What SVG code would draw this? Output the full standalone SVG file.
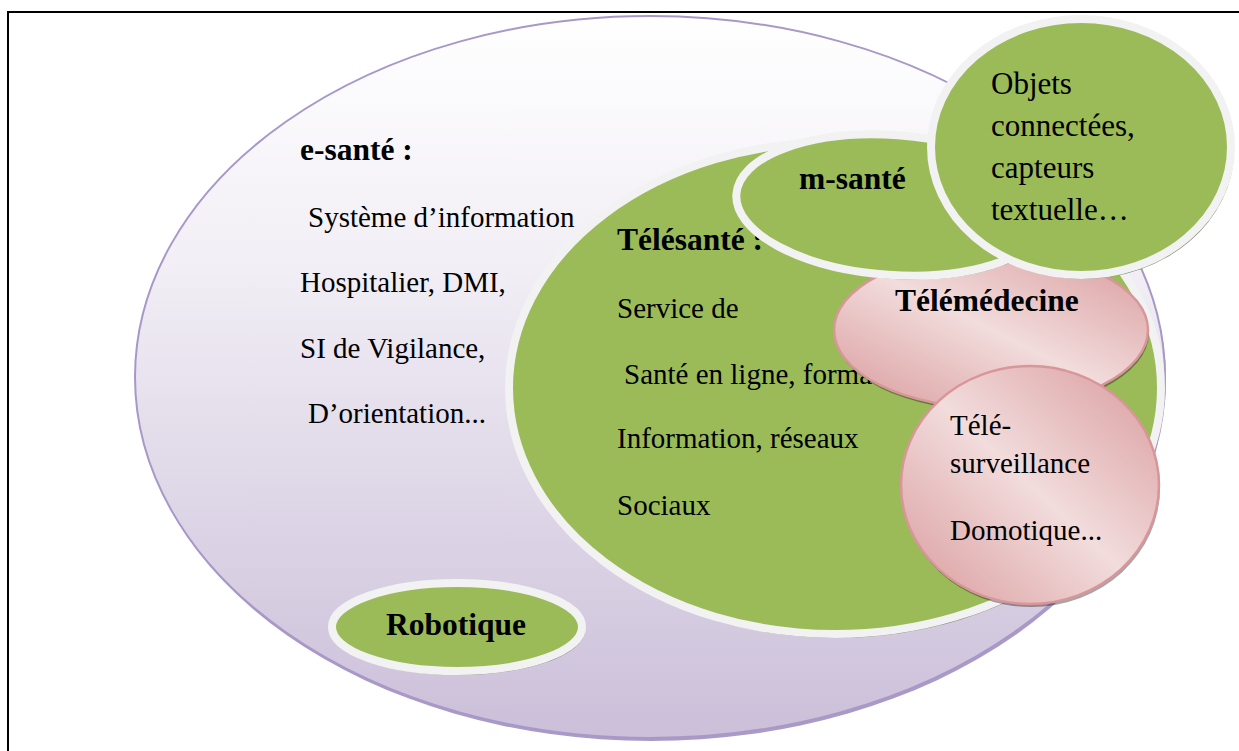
<svg xmlns="http://www.w3.org/2000/svg" width="1239" height="751" viewBox="0 0 1239 751">
  <style>
    .reg { font-family: "Liberation Serif", "Times New Roman", serif; font-size: 29px; fill: #000; }
    .big { font-family: "Liberation Serif", "Times New Roman", serif; font-size: 31px; fill: #000; }
    .bold { font-family: "Liberation Serif", "Times New Roman", serif; font-size: 31.5px; font-weight: bold; fill: #000; }
    .green { fill: #9bbb59; stroke: #f2f2f2; stroke-width: 8; }
    .gshadow { fill: #838c74; }
    .pink { fill: url(#pinkGrad); stroke: #d9969a; stroke-width: 2.5; }
    .pshadow { fill: #000; fill-opacity: 0.35; }
  </style>
  <defs>
    <linearGradient id="purpleGrad" x1="0" y1="0" x2="0" y2="1">
      <stop offset="0" stop-color="#ffffff"/>
      <stop offset="0.35" stop-color="#f1eef5"/>
      <stop offset="1" stop-color="#cbbfd9"/>
    </linearGradient>
    <linearGradient id="pinkGrad" x1="0" y1="1" x2="1" y2="0">
      <stop offset="0" stop-color="#d99a9c"/>
      <stop offset="0.5" stop-color="#f2dcdc"/>
      <stop offset="1" stop-color="#d99a9c"/>
    </linearGradient>
  </defs>

  <rect x="8" y="12" width="1240" height="760" fill="#ffffff" stroke="#000000" stroke-width="2"/>

  <g id="e-sante">
    <ellipse cx="651" cy="380" rx="515" ry="361" fill="#a99bc6"/>
    <ellipse cx="650" cy="377" rx="515" ry="361" fill="url(#purpleGrad)" stroke="#a898c8" stroke-width="2"/>
    <text class="bold" x="300" y="160">e-santé :</text>
    <text class="reg" x="308" y="227">Système d’information</text>
    <text class="reg" x="300" y="292">Hospitalier, DMI,</text>
    <text class="reg" x="300" y="358">SI de Vigilance,</text>
    <text class="reg" x="308" y="423">D’orientation...</text>
  </g>

  <g id="telesante">
    <ellipse class="gshadow" cx="837" cy="391" rx="327" ry="247"/>
    <ellipse class="green" cx="835" cy="388" rx="326" ry="246"/>
    <text class="bold" x="617" y="250">Télésanté :</text>
    <text class="reg" x="617" y="318">Service de</text>
    <text class="reg" x="624" y="384">Santé en ligne, forma</text>
    <text class="reg" x="617" y="448">Information, réseaux</text>
    <text class="reg" x="617" y="515">Sociaux</text>
  </g>

  <g id="robotique">
    <ellipse class="gshadow" cx="459" cy="630" rx="126" ry="45"/>
    <ellipse class="green" cx="457" cy="627" rx="125" ry="44"/>
    <text class="bold" x="456" y="635" text-anchor="middle">Robotique</text>
  </g>

  <g id="telemedecine">
    <ellipse class="pshadow" cx="992" cy="333" rx="157" ry="78"/>
    <ellipse class="pink" cx="991" cy="330" rx="157" ry="78"/>
    <text class="bold" x="895" y="311">Télémédecine</text>
  </g>

  <g id="telesurveillance">
    <ellipse class="pshadow" cx="1031" cy="488" rx="129" ry="119"/>
    <ellipse class="pink" cx="1030" cy="485" rx="129" ry="119"/>
    <text class="reg" x="950" y="435">Télé-</text>
    <text class="reg" x="950" y="473">surveillance</text>
    <text class="reg" x="950" y="540">Domotique...</text>
  </g>

  <g id="m-sante">
    <ellipse class="gshadow" cx="895" cy="208" rx="157" ry="71" transform="rotate(4 895 208)"/>
    <ellipse class="green" cx="893" cy="205" rx="157" ry="70" transform="rotate(4 893 205)"/>
    <text class="bold" x="799" y="189">m-santé</text>
  </g>

  <g id="objets">
    <ellipse class="gshadow" cx="1083" cy="150" rx="151" ry="129"/>
    <ellipse class="green" cx="1081" cy="147" rx="150" ry="128"/>
    <text class="big" x="991" y="94">Objets</text>
    <text class="big" x="991" y="136">connectées,</text>
    <text class="big" x="991" y="178">capteurs</text>
    <text class="big" x="991" y="220">textuelle…</text>
  </g>

  <g id="connectors"></g>
</svg>
